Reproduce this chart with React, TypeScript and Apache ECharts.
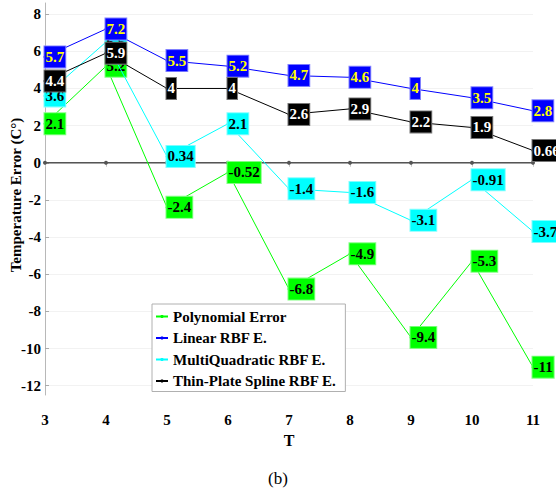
import React, { useEffect, useRef } from "react";
import * as echarts from "echarts";

const T = [3, 4, 5, 6, 7, 8, 9, 10, 11];
const polynomialErr = [2.1, 5.2, -2.4, -0.52, -6.8, -4.9, -9.4, -5.3, -11];
const linearRbfErr = [5.7, 7.2, 5.5, 5.2, 4.7, 4.6, 4, 3.5, 2.8];
const multiQuadErr = [3.6, 6.5, 0.34, 2.1, -1.4, -1.6, -3.1, -0.91, -3.7];
const thinPlateErr = [4.4, 5.9, 4, 4, 2.6, 2.9, 2.2, 1.9, 0.66];
const zeroLine = [0, 0, 0, 0, 0, 0, 0, 0, 0];
const yTicks = [-12, -10, -8, -6, -4, -2, 0, 2, 4, 6, 8];
const xTicks = [3, 4, 5, 6, 7, 8, 9, 10, 11];
const yAxisTitle = "Temperature Error (C°)";
const xAxisTitle = "T";
const caption = "(b)";

const FONT = "Liberation Serif";

function mk(
  name: string,
  vals: number[],
  color: string,
  textColor: string,
  border: string,
  z: number
) {
  return {
    name,
    type: "line",
    z,
    data: T.map((t, i) => [t, vals[i]]),
    symbol: "circle",
    symbolSize: 3,
    showSymbol: true,
    lineStyle: { color, width: 1 },
    itemStyle: { color },
    label: {
      show: true,
      position: "right",
      distance: -2,
      formatter: (p: any) => String(p.value[1]),
      color: textColor,
      backgroundColor: color,
      borderColor: border,
      borderWidth: 1,
      padding: [2, 1, 2, 1],
      fontSize: 15,
      fontWeight: "bold",
      fontFamily: FONT,
      lineHeight: 17,
    },
  };
}

export default function App() {
  const ref = useRef<HTMLDivElement>(null);
  useEffect(() => {
    if (!ref.current) return;
    const chart = echarts.init(ref.current, null, { renderer: "svg" });
    chart.setOption({
      animation: false,
      backgroundColor: "#ffffff",
      textStyle: { fontFamily: FONT },
      grid: {
        left: 45,
        right: 23,
        top: 3,
        bottom: 93,
        containLabel: false,
        outerBoundsMode: "none",
      },
      xAxis: {
        type: "value",
        min: 3,
        max: 11,
        interval: 1,
        offset: 7,
        name: xAxisTitle,
        nameLocation: "middle",
        nameGap: 30,
        nameTextStyle: { fontSize: 16, fontWeight: "bold", color: "#000", fontFamily: FONT },
        axisLine: { show: false },
        axisTick: { show: true, inside: false, length: 4, lineStyle: { color: "#c8c8c8" } },
        axisLabel: {
          margin: 10,
          fontSize: 15,
          fontWeight: "bold",
          color: "#000",
          fontFamily: FONT,
          customValues: xTicks,
        },
        splitLine: { show: false },
      },
      yAxis: {
        type: "value",
        min: -12.5,
        max: 8.6,
        axisLine: { show: true, lineStyle: { color: "#b8b8b8", width: 1 } },
        axisTick: { show: true, inside: true, length: 4, lineStyle: { color: "#aaa" }, customValues: yTicks },
        axisLabel: {
          margin: 4,
          fontSize: 15,
          fontWeight: "bold",
          color: "#000",
          fontFamily: FONT,
          customValues: yTicks,
        },
        splitLine: { show: true, lineStyle: { color: "#f2f2f2", width: 1 } },
      },
      legend: {
        orient: "vertical",
        left: 152,
        top: 304,
        padding: [5, 9, 3, 3],
        itemGap: 6.5,
        itemWidth: 12,
        itemHeight: 4,
        backgroundColor: "#fff",
        borderColor: "#b0b0b0",
        borderWidth: 1,
        z: 20,
        data: ["Polynomial Error", "Linear RBF E.", "MultiQuadratic RBF E.", "Thin-Plate Spline RBF E."],
        textStyle: { fontSize: 15, fontWeight: "bold", color: "#000", fontFamily: FONT, lineHeight: 15 },
      },
      graphic: [
        {
          type: "text",
          x: 16,
          y: 195,
          rotation: Math.PI / 2,
          style: {
            text: yAxisTitle,
            fontSize: 15,
            fontWeight: "bold",
            fontFamily: FONT,
            fill: "#000",
            textAlign: "center",
            textVerticalAlign: "middle",
          },
        },
        {
          type: "text",
          x: 278,
          y: 478,
          style: {
            text: caption,
            fontSize: 17,
            fontFamily: FONT,
            fill: "#000",
            textAlign: "center",
            textVerticalAlign: "middle",
          },
        },
      ],
      series: [
        {
          name: "zero",
          type: "line",
          z: 1,
          data: T.map((t, i) => [t, zeroLine[i]]),
          symbol: "circle",
          symbolSize: 4,
          lineStyle: { color: "#555", width: 1.5 },
          itemStyle: { color: "#555" },
          silent: true,
        },
        mk("Polynomial Error", polynomialErr, "#00ff00", "#000", "#80ff80", 2),
        mk("Linear RBF E.", linearRbfErr, "#0000ff", "#ffff00", "#8080ff", 4),
        mk("MultiQuadratic RBF E.", multiQuadErr, "#00ffff", "#000", "#80ffff", 3),
        mk("Thin-Plate Spline RBF E.", thinPlateErr, "#000000", "#fff", "#777", 5),
      ],
    });
    return () => chart.dispose();
  }, []);
  return (
    <div
      ref={ref}
      style={{ position: "fixed", left: 0, top: 0, width: 556, height: 488 }}
    />
  );
}
